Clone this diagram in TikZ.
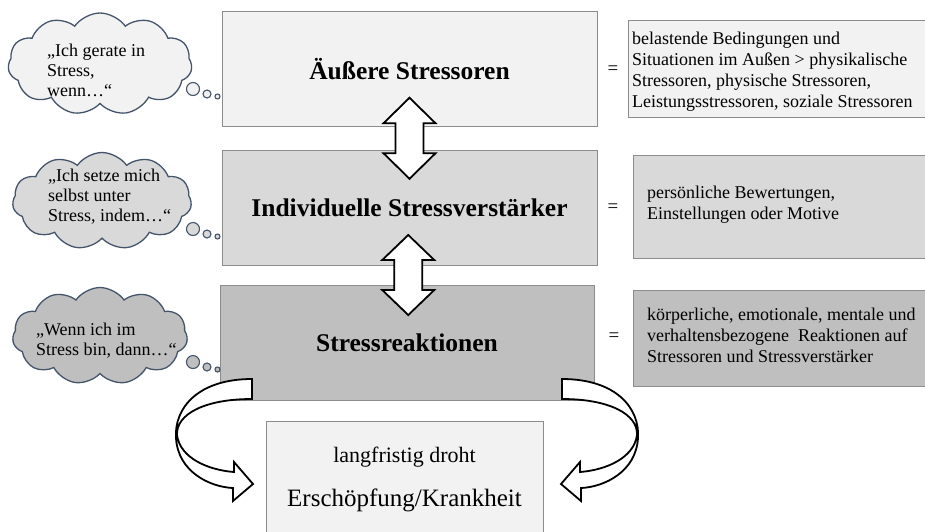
\documentclass[tikz,border=0pt]{standalone}
\usepackage{fontspec}
\setmainfont{Liberation Serif}
\usetikzlibrary{shapes.symbols,calc,positioning}
\definecolor{boxlight}{HTML}{F2F2F2}
\definecolor{boxmid}{HTML}{D9D9D9}
\definecolor{boxdark}{HTML}{BFBFBF}
\definecolor{boxline}{HTML}{8C8C8C}
\definecolor{cloudline}{HTML}{44546A}
\tikzset{
mainbox/.style={draw=boxline, line width=1pt, minimum width=375pt, minimum height=115pt, inner sep=0pt, font=\fontsize{25.5}{29}\selectfont\bfseries}, % the three levels
infobox/.style={draw=boxline, line width=1pt, inner sep=0pt}, % boxes on the right
infotext/.style={anchor=west, align=left, inner sep=0pt, font=\fontsize{18}{21}\selectfont},
thought/.style={cloud, cloud puffs=11, cloud puff arc=110, cloud ignores aspect, draw=cloudline, line width=1.3pt, inner sep=0pt}, % thought clouds
thoughttext/.style={anchor=west, align=left, inner sep=0pt, font=\fontsize{18}{20}\selectfont},
bubble/.style={circle, draw=cloudline, line width=1.1pt, inner sep=0pt},
blockarrow/.style={draw=black, line width=1.8pt, fill=white, line join=miter},
}
\begin{document}
\begin{tikzpicture}[x=1pt,y=-1pt]
\useasboundingbox (0,0) rectangle (925,531);
%main boxes
\node[mainbox, fill=boxlight] (outer) at (409.5,69) {Äußere Stressoren};
\node[mainbox, fill=boxmid] (indiv) at (409.5,207.5) {Individuelle Stressverstärker};
\node[mainbox, fill=boxdark, minimum width=374pt] (react) at (407,342.5) {Stressreaktionen};
%bottom box
\node[infobox, fill=boxlight, minimum width=277pt, minimum height=114pt] (result) at (404.5,478) {};
\node[inner sep=0pt, font=\fontsize{22}{26}\selectfont] (resulta) at (404.5,457) {langfristig droht};
\node[inner sep=0pt, font=\fontsize{25}{29}\selectfont] (resultb) at (404.5,500) {Erschöpfung/Krankheit};
%right boxes
\node[infobox, fill=boxlight, minimum width=297pt, minimum height=97pt] (def1) at (776.5,68.5) {};
\node[infobox, fill=boxmid, minimum width=292pt, minimum height=103pt] (def2) at (779,206.5) {};
\node[infobox, fill=boxdark, minimum width=292pt, minimum height=96pt] (def3) at (779,338) {};
\node[infotext] (def1text) at (632,72) {belastende Bedingungen und\\Situationen im Außen > physikalische\\Stressoren, physische Stressoren,\\Leistungsstressoren, soziale Stressoren};
\node[infotext] (def2text) at (647,205) {persönliche Bewertungen,\\Einstellungen oder Motive};
\node[infotext] (def3text) at (647,335) {körperliche, emotionale, mentale und\\verhaltensbezogene\ \ Reaktionen auf\\Stressoren und Stressverstärker};
%equal signs
\node[font=\fontsize{19}{21}\selectfont] (eq1) at (613,70) {=};
\node[font=\fontsize{19}{21}\selectfont] (eq2) at (613,208) {=};
\node[font=\fontsize{19}{21}\selectfont] (eq3) at (614,337) {=};
%clouds
\node[thought, fill=boxlight, minimum width=184pt, minimum height=102pt] (cloud1) at (100,64) {};
\node[thought, fill=boxmid, minimum width=179pt, minimum height=97pt] (cloud2) at (102,201) {};
\node[thought, fill=boxdark, minimum width=175pt, minimum height=97pt] (cloud3) at (100,336) {};
\node[thoughttext] (cloud1text) at (47,70) {„Ich gerate in\\Stress,\\wenn…“};
\node[thoughttext] (cloud2text) at (48,197) {„Ich setze mich\\selbst unter\\Stress, indem…“};
\node[thoughttext] (cloud3text) at (36,341) {„Wenn ich im\\Stress bin, dann…“};
%bubbles
\foreach \c/\y/\f in {1/89/boxlight, 2/229/boxmid, 3/362/boxdark}{
  \node[bubble, fill=\f, minimum size=13pt] (bub\c a) at (193,\y) {};
  \node[bubble, fill=\f, minimum size=8pt] (bub\c b) at (207,\y+5) {};
  \node[bubble, fill=\f, minimum size=5pt] (bub\c c) at (217.5,\y+7.5) {};
}
%double arrows
\coordinate (mid12) at ($(outer.south)!0.5!(indiv.north)$);
\coordinate (mid23) at ($(indiv.south)!0.5!(react.north)$);
\draw[blockarrow, shift={(mid12)}] (0,-40.5) -- (26,-15) -- (14,-15) -- (14,15) -- (26,15) -- (0,40.5) -- (-26,15) -- (-14,15) -- (-14,-15) -- (-26,-15) -- cycle;
\draw[blockarrow, shift={(mid23)}] (0,-40) -- (26,-15) -- (14,-15) -- (14,15) -- (26,15) -- (0,40) -- (-26,15) -- (-14,15) -- (-14,-15) -- (-26,-15) -- cycle;
%curved arrows
\draw[blockarrow] (252,379) .. controls (198,379) and (174,408) .. (176,438) .. controls (178,472) and (210,487) .. (233,488) -- (233,501) -- (253,484) -- (234,462) -- (234,472) .. controls (208,470) and (180,458) .. (177,435) .. controls (176,414) and (205,399) .. (252,399) -- cycle;
\draw[blockarrow] (562,379) .. controls (616,379) and (640,408) .. (638,438) .. controls (636,472) and (604,487) .. (581,488) -- (581,501) -- (561,484) -- (580,462) -- (580,472) .. controls (606,470) and (634,458) .. (637,435) .. controls (638,414) and (609,399) .. (562,399) -- cycle;
\end{tikzpicture}
\end{document}
